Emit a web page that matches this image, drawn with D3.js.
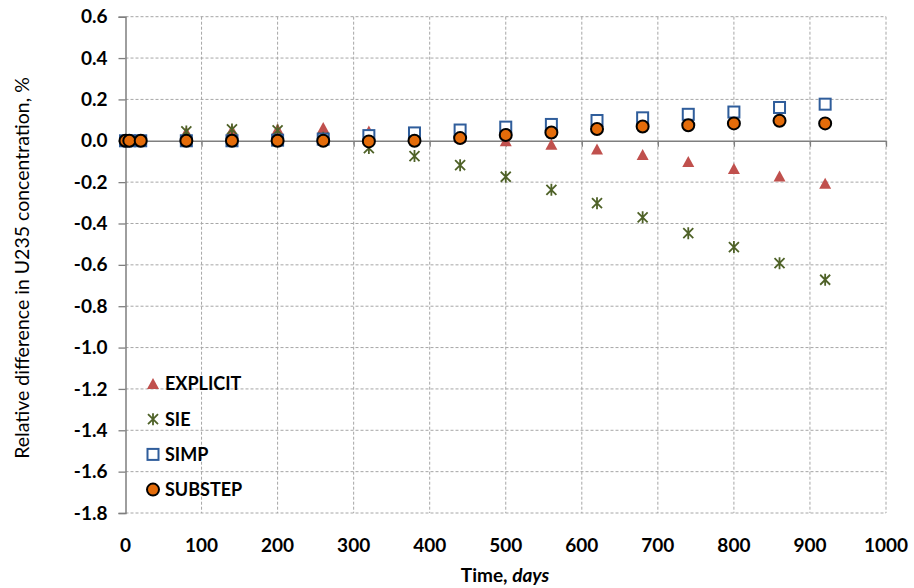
<!DOCTYPE html>
<html lang="en">
<head>
    <meta charset="UTF-8">
    <title>U235 relative difference</title>
    <style>
        body { margin: 0; background: #fff; }
        svg { display: block; }
        .tick_text { font-family: Lato, "Open Sans", sans-serif; font-weight: bold; font-size: 19px; fill: #000; }
        .legend_text { font-family: Lato, "Open Sans", sans-serif; font-weight: bold; font-size: 18px; fill: #000; }
    </style>
    <script src="https://cdn.jsdelivr.net/npm/d3@7"></script>
</head>
<body>
<svg width="914" height="588"></svg>

<script>
    // time points (days)
    const days = [0, 5, 20, 80, 140, 200, 260, 320, 380, 440, 500, 560, 620, 680, 740, 800, 860, 920];

    // relative difference, %
    const explicitVals = [0, 0, 0, 0.04, 0.05, 0.055, 0.062, 0.045, 0.035, 0.015, -0.002, -0.019, -0.042, -0.069, -0.103, -0.137, -0.173, -0.208];
    const sieVals      = [0, 0, 0, 0.045, 0.055, 0.05, 0.015, -0.035, -0.074, -0.118, -0.174, -0.237, -0.302, -0.37, -0.447, -0.514, -0.592, -0.672];
    const simpVals     = [0, 0, 0, 0, 0, 0.003, 0.008, 0.025, 0.038, 0.052, 0.066, 0.079, 0.098, 0.111, 0.128, 0.139, 0.161, 0.177];
    const substepVals  = [0, 0, 0, 0, 0, 0, 0, -0.003, 0, 0.013, 0.028, 0.04, 0.057, 0.069, 0.075, 0.084, 0.097, 0.084];

    const xTicks = [0, 100, 200, 300, 400, 500, 600, 700, 800, 900, 1000];
    const yTicks = [0.6, 0.4, 0.2, 0.0, -0.2, -0.4, -0.6, -0.8, -1.0, -1.2, -1.4, -1.6, -1.8];

    const seriesNames = ["EXPLICIT", "SIE", "SIMP", "SUBSTEP"];

    let svg = d3.select("svg");

    let x = d3.scaleLinear().domain([0, 1000]).range([125.5, 886]);
    let y = d3.scaleLinear().domain([-1.8, 0.6]).range([513, 16.7]);

    // grid
    let grid = svg.append("g").attr("stroke", "#a6a6a6").attr("stroke-width", 1)
        .attr("stroke-dasharray", "3,2").attr("fill", "none");
    grid.selectAll(".hgrid").data(yTicks.filter(d => d !== 0)).enter().append("line")
        .attr("x1", x(0)).attr("x2", x(1000))
        .attr("y1", d => y(d)).attr("y2", d => y(d));
    grid.selectAll(".vgrid").data(xTicks.filter(d => d !== 0)).enter().append("line")
        .attr("x1", d => x(d)).attr("x2", d => x(d))
        .attr("y1", y(0.6)).attr("y2", y(-1.8));

    // y axis
    let yAxis = svg.append("g").attr("transform", `translate(${x(0)},0)`)
        .call(d3.axisLeft(y).tickValues(yTicks).tickSize(7).tickPadding(11)
            .tickFormat(d => d.toFixed(1)));
    yAxis.select(".domain").attr("stroke", "#7f7f7f").attr("stroke-width", 1.5);
    yAxis.selectAll(".tick line").attr("stroke", "#7f7f7f").attr("stroke-width", 1.3);
    yAxis.selectAll(".tick text").attr("class", "tick_text").attr("font-size", null).attr("font-family", null);

    // x axis along zero
    let xAxis = svg.append("g").attr("transform", `translate(0,${y(0)})`)
        .call(d3.axisBottom(x).tickValues(xTicks).tickSize(6).tickSizeOuter(0).tickFormat(""));
    xAxis.select(".domain").attr("stroke", "#7f7f7f").attr("stroke-width", 1.5);
    xAxis.selectAll(".tick line").attr("stroke", "#7f7f7f").attr("stroke-width", 1.3);

    svg.append("g").selectAll("text").data(xTicks).enter().append("text")
        .attr("class", "tick_text")
        .attr("x", d => x(d)).attr("y", 552)
        .attr("text-anchor", "middle")
        .text(d => d);

    // axis titles
    svg.append("text")
        .attr("transform", `translate(29,268)rotate(-90)`)
        .attr("text-anchor", "middle")
        .style("font-family", "Lato, sans-serif").style("font-size", "19.5px")
        .text("Relative difference in U235 concentration, %");

    let xt = svg.append("text")
        .attr("x", 505).attr("y", 582).attr("text-anchor", "middle")
        .style("font-family", "Lato, sans-serif").style("font-size", "19px").style("font-weight", "bold");
    xt.append("tspan").text("Time, ");
    xt.append("tspan").style("font-style", "italic").text("days");

    // marker drawers
    function triangle(g) {
        g.append("path").attr("d", "M0,-6L6,5L-6,5Z").attr("fill", "#c0504d");
    }
    function star(g) {
        g.append("path").attr("d", "M-5,-5L5,5M-5,5L5,-5M0,-6L0,6")
            .attr("stroke", "#4f6228").attr("stroke-width", 1.8).attr("fill", "none");
    }
    function square(g) {
        g.append("rect").attr("x", -5.5).attr("y", -5.5).attr("width", 11).attr("height", 11)
            .attr("fill", "#fff").attr("stroke", "#2f5d9b").attr("stroke-width", 2);
    }
    function circle(g) {
        g.append("circle").attr("r", 6).attr("fill", "#e46c0a")
            .attr("stroke", "#000").attr("stroke-width", 2);
    }

    const drawers = [triangle, star, square, circle];
    const allVals = [explicitVals, sieVals, simpVals, substepVals];

    allVals.forEach(function (vals, s) {
        svg.append("g").selectAll("g").data(vals).enter().append("g")
            .attr("transform", (d, i) => `translate(${x(days[i])},${y(d)})`)
            .each(function () { drawers[s](d3.select(this)); });
    });

    // legend
    let legend = svg.append("g").selectAll("g").data(seriesNames).enter().append("g")
        .attr("transform", (d, i) => `translate(153,${384 + i * 35.2})`);
    legend.each(function (d, i) { drawers[i](d3.select(this)); });
    legend.append("text").attr("class", "legend_text")
        .attr("x", 12).attr("dy", "0.36em").text(d => d);
</script>
</body>
</html>
